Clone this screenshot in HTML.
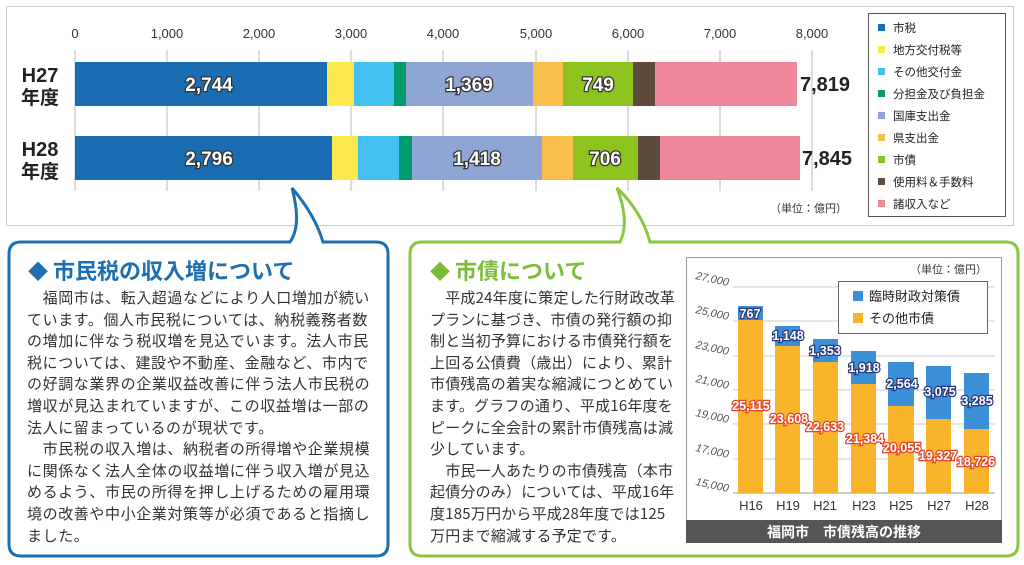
<!DOCTYPE html>
<html><head><meta charset="utf-8"><style>
body{margin:0;width:1024px;height:565px;background:#fff;overflow:hidden;position:relative;font-family:"Liberation Sans","Noto Sans CJK JP",sans-serif}
.txt{position:absolute;font-size:15px;color:#333;line-height:21.6px;white-space:nowrap;font-family:"Noto Sans CJK JP",sans-serif}
.ttl{position:absolute;font-size:22px;font-weight:bold;white-space:nowrap;font-family:"Noto Sans CJK JP",sans-serif}
</style></head><body>
<svg width="1024" height="565" style="position:absolute;left:0;top:0" font-family="Liberation Sans, Noto Sans CJK JP, sans-serif">
<rect x="6.5" y="6.5" width="1007" height="219" fill="#fff" stroke="#ccc"/>
<g stroke="#bbb" stroke-width="1">
<line x1="75" y1="50" x2="75" y2="191"/><line x1="167" y1="50" x2="167" y2="191"/><line x1="259" y1="50" x2="259" y2="191"/><line x1="351" y1="50" x2="351" y2="191"/><line x1="443" y1="50" x2="443" y2="191"/><line x1="536" y1="50" x2="536" y2="191"/><line x1="628" y1="50" x2="628" y2="191"/><line x1="720" y1="50" x2="720" y2="191"/><line x1="812" y1="50" x2="812" y2="191"/>
</g>
<g font-size="13" fill="#333" text-anchor="middle">
<text x="75" y="38">0</text><text x="167" y="38">1,000</text><text x="259" y="38">2,000</text><text x="351" y="38">3,000</text><text x="443" y="38">4,000</text><text x="536" y="38">5,000</text><text x="628" y="38">6,000</text><text x="720" y="38">7,000</text><text x="812" y="38">8,000</text>
</g>
<g>
<rect x="75" y="62" width="252" height="44" fill="#1a6db3"/><rect x="327" y="62" width="27" height="44" fill="#fbe84d"/><rect x="354" y="62" width="40" height="44" fill="#42c0ef"/><rect x="394" y="62" width="12" height="44" fill="#009c6e"/><rect x="406" y="62" width="127" height="44" fill="#8fa5d4"/><rect x="533" y="62" width="30" height="44" fill="#f9bf4c"/><rect x="563" y="62" width="70" height="44" fill="#8cc31f"/><rect x="633" y="62" width="22" height="44" fill="#5f4a3e"/><rect x="655" y="62" width="142" height="44" fill="#ee8799"/>
<rect x="75" y="136" width="257" height="44" fill="#1a6db3"/><rect x="332" y="136" width="26" height="44" fill="#fbe84d"/><rect x="358" y="136" width="41" height="44" fill="#42c0ef"/><rect x="399" y="136" width="13" height="44" fill="#009c6e"/><rect x="412" y="136" width="130" height="44" fill="#8fa5d4"/><rect x="542" y="136" width="31" height="44" fill="#f9bf4c"/><rect x="573" y="136" width="65" height="44" fill="#8cc31f"/><rect x="638" y="136" width="22" height="44" fill="#5f4a3e"/><rect x="660" y="136" width="140" height="44" fill="#ee8799"/>
</g>
<g font-size="19" font-weight="bold" fill="#fff" stroke="#333" stroke-width="2.5" paint-order="stroke" text-anchor="middle">
<text x="209" y="91">2,744</text><text x="469" y="91">1,369</text><text x="598" y="91">749</text>
<text x="209" y="165">2,796</text><text x="477" y="165">1,418</text><text x="605" y="165">706</text>
</g>
<g font-size="20" font-weight="bold" fill="#222"><text x="800" y="91">7,819</text><text x="802" y="165">7,845</text></g>
<g font-size="20" font-weight="bold" fill="#222" text-anchor="middle"><text x="40" y="82">H27</text><text x="40" y="104" font-size="19">年度</text><text x="40" y="156">H28</text><text x="40" y="178" font-size="19">年度</text></g>
<text x="770" y="212" font-size="11" fill="#333">（単位：億円）</text>
<rect x="868.5" y="13.5" width="137" height="203" fill="#fff" stroke="#555"/>
<g font-size="11.5" fill="#222">
<rect x="878" y="24" width="7" height="7" fill="#1a6db3"/><text x="893" y="32">市税</text>
<rect x="878" y="46" width="7" height="7" fill="#fbe84d"/><text x="893" y="54">地方交付税等</text>
<rect x="878" y="68" width="7" height="7" fill="#42c0ef"/><text x="893" y="76">その他交付金</text>
<rect x="878" y="90" width="7" height="7" fill="#009c6e"/><text x="893" y="98">分担金及び負担金</text>
<rect x="878" y="112" width="7" height="7" fill="#8fa5d4"/><text x="893" y="120">国庫支出金</text>
<rect x="878" y="134" width="7" height="7" fill="#f9bf4c"/><text x="893" y="142">県支出金</text>
<rect x="878" y="156" width="7" height="7" fill="#8cc31f"/><text x="893" y="164">市債</text>
<rect x="878" y="178" width="7" height="7" fill="#5f4a3e"/><text x="893" y="186">使用料＆手数料</text>
<rect x="878" y="200" width="7" height="7" fill="#ee8799"/><text x="893" y="208">諸収入など</text>
</g>
<!-- callouts -->
<path d="M21,242 H290 Q302,225 292,188 Q315,215 323,242 H376 Q388,242 388,254 V544 Q388,556 376,556 H21 Q9,556 9,544 V254 Q9,242 21,242 Z" fill="#fff" stroke="#1e6fb0" stroke-width="3"/>
<path d="M422,242 H620 Q630,222 617,188 Q642,212 650,242 H1006 Q1018,242 1018,254 V544 Q1018,556 1006,556 H422 Q410,556 410,544 V254 Q410,242 422,242 Z" fill="#fff" stroke="#8cc63f" stroke-width="3"/>
<!-- inner chart -->
<rect x="686.5" y="257.5" width="315" height="285" fill="#fff" stroke="#999"/>
<rect x="686" y="520" width="316" height="23" fill="#555"/>
<text x="844" y="537" font-size="14" font-weight="bold" fill="#fff" text-anchor="middle">福岡市　市債残高の推移</text>
<g stroke="#ccc"><line x1="733" y1="287" x2="995" y2="287"/><line x1="733" y1="321" x2="995" y2="321"/><line x1="733" y1="356" x2="995" y2="356"/><line x1="733" y1="390" x2="995" y2="390"/><line x1="733" y1="424" x2="995" y2="424"/><line x1="733" y1="459" x2="995" y2="459"/></g>
<line x1="733" y1="493" x2="995" y2="493" stroke="#999"/>
<g font-size="11" fill="#555" font-style="italic" text-anchor="end">
<text x="728" y="286" transform="rotate(12 728 286)">27,000</text><text x="728" y="320" transform="rotate(12 728 320)">25,000</text><text x="728" y="355" transform="rotate(12 728 355)">23,000</text><text x="728" y="389" transform="rotate(12 728 389)">21,000</text><text x="728" y="423" transform="rotate(12 728 423)">19,000</text><text x="728" y="458" transform="rotate(12 728 458)">17,000</text><text x="728" y="492" transform="rotate(12 728 492)">15,000</text>
</g>
<g>
<rect x="738" y="306" width="25" height="14" fill="#3a8fd6"/><rect x="738" y="320" width="25" height="173" fill="#f8b42a"/>
<rect x="775" y="326" width="25" height="20" fill="#3a8fd6"/><rect x="775" y="346" width="25" height="147" fill="#f8b42a"/>
<rect x="813" y="339" width="25" height="23" fill="#3a8fd6"/><rect x="813" y="362" width="25" height="131" fill="#f8b42a"/>
<rect x="851" y="351" width="25" height="33" fill="#3a8fd6"/><rect x="851" y="384" width="25" height="109" fill="#f8b42a"/>
<rect x="888" y="362" width="26" height="44" fill="#3a8fd6"/><rect x="888" y="406" width="26" height="87" fill="#f8b42a"/>
<rect x="926" y="366" width="25" height="53" fill="#3a8fd6"/><rect x="926" y="419" width="25" height="74" fill="#f8b42a"/>
<rect x="964" y="373" width="25" height="56" fill="#3a8fd6"/><rect x="964" y="429" width="25" height="64" fill="#f8b42a"/>
</g>
<g font-size="12.5" font-weight="bold" fill="#fff" stroke="#2a3a80" stroke-width="2.5" paint-order="stroke" text-anchor="middle">
<text x="750" y="318">767</text><text x="788" y="340">1,148</text><text x="825" y="355">1,353</text><text x="864" y="372">1,918</text><text x="902" y="388">2,564</text><text x="940" y="396">3,075</text><text x="977" y="405">3,285</text>
</g>
<g font-size="12.5" font-weight="bold" fill="#fff" stroke="#e2452b" stroke-width="2.5" paint-order="stroke" text-anchor="middle">
<text x="751" y="410">25,115</text><text x="789" y="423">23,608</text><text x="825" y="431">22,633</text><text x="865" y="443">21,384</text><text x="902" y="452">20,055</text><text x="938" y="460">19,327</text><text x="976" y="466">18,726</text>
</g>
<g font-size="13" fill="#333" text-anchor="middle"><text x="751" y="510">H16</text><text x="788" y="510">H19</text><text x="825" y="510">H21</text><text x="864" y="510">H23</text><text x="901" y="510">H25</text><text x="939" y="510">H27</text><text x="977" y="510">H28</text></g>
<text x="910" y="273" font-size="11" fill="#333">（単位：億円）</text>
<rect x="838.5" y="281.5" width="149" height="52" fill="#fff" stroke="#666"/>
<rect x="853" y="291" width="10" height="10" fill="#3a8fd6"/><text x="869" y="301" font-size="13" fill="#222">臨時財政対策債</text>
<rect x="853" y="313" width="10" height="10" fill="#f8b42a"/><text x="869" y="323" font-size="13" fill="#222">その他市債</text>
</svg>
<div class="ttl" style="left:28px;top:254px;color:#1e6fb0"><span style="font-size:20px">◆</span> 市民税の収入増について</div>
<div class="txt" style="left:27px;top:287px;letter-spacing:0.6px">　福岡市は、転入超過などにより人口増加が続い<br>ています。個人市民税については、納税義務者数<br>の増加に伴なう税収増を見込でいます。法人市民<br>税については、建設や不動産、金融など、市内で<br>の好調な業界の企業収益改善に伴う法人市民税の<br>増収が見込まれていますが、この収益増は一部の<br>法人に留まっているのが現状です。<br>　市民税の収入増は、納税者の所得増や企業規模<br>に関係なく法人全体の収益増に伴う収入増が見込<br>めるよう、市民の所得を押し上げるための雇用環<br>境の改善や中小企業対策等が必須であると指摘し<br>ました。</div>
<div class="ttl" style="left:430px;top:254px;color:#7cbd3a"><span style="font-size:20px">◆</span> 市債について</div>
<div class="txt" style="left:430px;top:287px;letter-spacing:0.2px">　平成24年度に策定した行財政改革<br>プランに基づき、市債の発行額の抑<br>制と当初予算における市債発行額を<br>上回る公債費（歳出）により、累計<br>市債残高の着実な縮減につとめてい<br>ます。グラフの通り、平成16年度を<br>ピークに全会計の累計市債残高は減<br>少しています。<br>　市民一人あたりの市債残高（本市<br>起債分のみ）については、平成16年<br>度185万円から平成28年度では125<br>万円まで縮減する予定です。</div>
</body></html>
